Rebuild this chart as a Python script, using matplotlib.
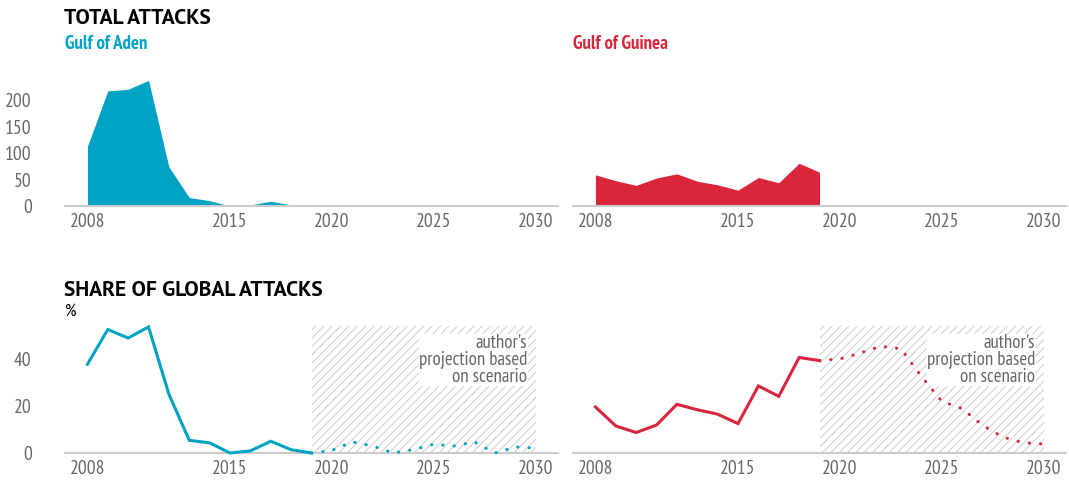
import matplotlib.pyplot as plt
from matplotlib import font_manager

# pick a narrow font that is installed
names = set(f.name for f in font_manager.fontManager.ttflist)
narrow = 'DejaVu Sans'
for cand in ['PT Sans Narrow', 'Roboto Condensed', 'Archivo Narrow', 'Asap Condensed']:
    if cand in names:
        narrow = cand
        break
heavy = 'PT Sans' if 'PT Sans' in names else narrow
plt.rcParams['font.family'] = [narrow, 'DejaVu Sans']

years = list(range(2008, 2020))
proj_years = list(range(2019, 2031))

aden_attacks = [113, 218, 221, 238, 74, 16, 10, 0, 2, 9, 2, 0]
guinea_attacks = [59, 48, 39, 53, 61, 47, 40, 30, 54, 44, 81, 64]

aden_share = [37.7, 52.5, 48.9, 53.6, 25, 5.4, 4.3, 0, 0.9, 5, 1.4, 0]
guinea_share = [19.6, 11.5, 8.7, 11.9, 20.7, 18.4, 16.5, 12.5, 28.5, 24.1, 40.6, 39.3]

aden_proj = [0, 1.1, 4.7, 3, 0, 1.4, 3.7, 3, 4.7, 0, 2.6, 2.1]
guinea_proj = [39.3, 40, 42.5, 45.4, 44.3, 32.6, 22, 18.9, 11.8, 6.8, 4.4, 3.8]

aden_color = '#00a3c4'
guinea_color = '#d9263b'
grey = '#666666'

fig = plt.figure(figsize=(10.69, 4.84), dpi=100)
W, H = 1069, 484

def px_axes(x0, x1, ytop, ybot):
    return fig.add_axes([x0 / W, (H - ybot) / H, (x1 - x0) / W, (ybot - ytop) / H])

ax1 = px_axes(65, 558, 74, 206)
ax2 = px_axes(573, 1066, 74, 206)
ax3 = px_axes(65, 558, 326, 453)
ax4 = px_axes(573, 1066, 326, 453)

plt.rcParams['hatch.linewidth'] = 0.7

for ax in [ax1, ax2, ax3, ax4]:
    ax.set_xlim(2006.9, 2031.1)
    ax.set_xticks([2008, 2015, 2020, 2025, 2030])
    for s in ['top', 'right', 'left']:
        ax.spines[s].set_visible(False)
    ax.spines['bottom'].set_color('#cccccc')
    ax.spines['bottom'].set_linewidth(1.5)
    ax.tick_params(axis='x', length=0, pad=5, labelsize=14, labelcolor=grey)
    ax.tick_params(axis='y', length=0, pad=24, labelsize=14, labelcolor=grey)

ax1.fill_between(years, aden_attacks, color=aden_color, lw=0)
ax2.fill_between(years, guinea_attacks, color=guinea_color, lw=0)
for ax in [ax1, ax2]:
    ax.set_ylim(0, 250)
    ax.set_yticks([0, 50, 100, 150, 200])
ax2.set_yticklabels([])

for ax, hist, proj, c in [(ax3, aden_share, aden_proj, aden_color),
                          (ax4, guinea_share, guinea_proj, guinea_color)]:
    ax.set_ylim(0, 54)
    ax.set_yticks([0, 20, 40])
    ax.axvspan(2019, 2030, facecolor='white', edgecolor='#cccccc', hatch='////', lw=0, zorder=0)
    ax.plot(years, hist, color=c, lw=2.2, solid_joinstyle='miter', clip_on=False, zorder=3)
    ax.plot(proj_years, proj, color=c, lw=2.2, linestyle=(0, (0.1, 3.6)),
            dash_capstyle='round', clip_on=False, zorder=3)
    ax.text(2029.6, 50.6, "author's\nprojection based\non scenario", ha='right', va='top',
            fontsize=13.6, color=grey, linespacing=0.92, zorder=2,
            bbox=dict(facecolor='white', edgecolor='none', pad=0.3))
ax4.set_yticklabels([])

fig.text(64 / W, 1 - 19 / H, 'TOTAL ATTACKS', fontsize=15.5, fontweight='bold',
         family=[heavy, 'DejaVu Sans'], color='black', va='center')
fig.text(65 / W, 1 - 44 / H, 'Gulf of Aden', fontsize=13.5, fontweight='bold', color=aden_color, va='center')
fig.text(573 / W, 1 - 44 / H, 'Gulf of Guinea', fontsize=13.5, fontweight='bold', color=guinea_color, va='center')
fig.text(64 / W, 1 - 291 / H, 'SHARE OF GLOBAL ATTACKS', fontsize=15.5, fontweight='bold',
         family=[heavy, 'DejaVu Sans'], color='black', va='center')
fig.text(65 / W, 1 - 312 / H, '%', fontsize=13, color='black', va='center')

fig.savefig('out.png', dpi=100)
